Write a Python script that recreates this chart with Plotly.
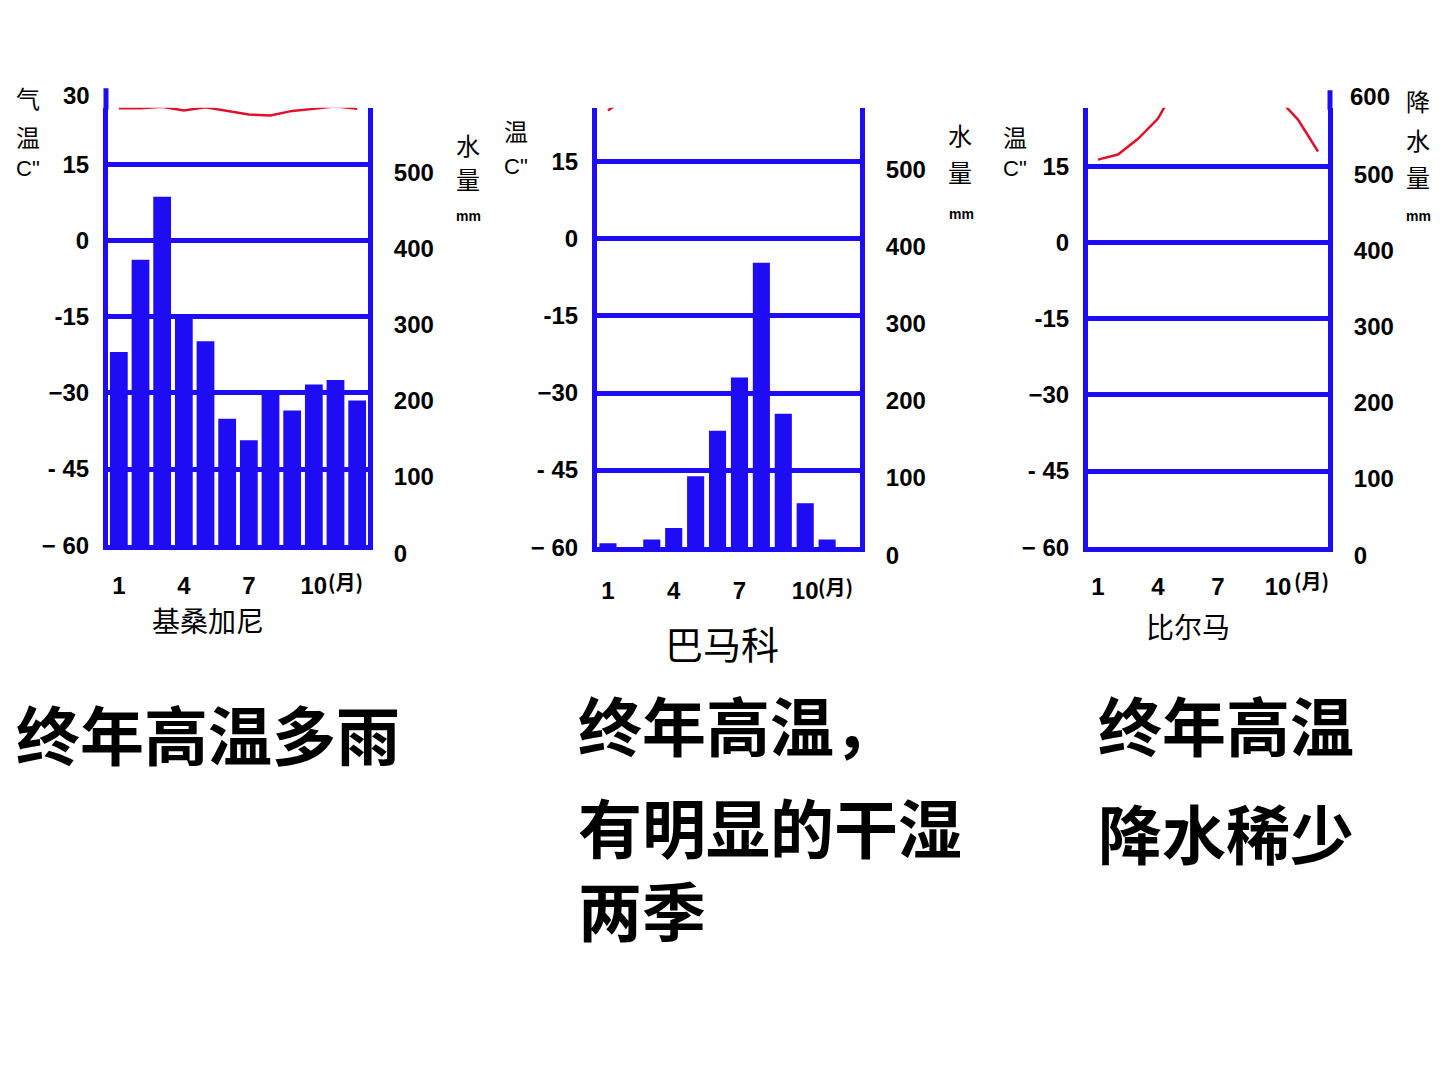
import plotly.graph_objects as go

# ---------------- data ----------------
months = [1, 2, 3, 4, 5, 6, 7, 8, 9, 10, 11, 12]
month_tick_vals = [1, 4, 7, 10]
month_tick_text = ["1", "4", "7", "10"]

temp_tick_vals = [-60, -45, -30, -15, 0, 15]
temp_tick_text = ["− 60", "- 45", "−30", "-15", "0", "15"]
precip_tick_vals = [0, 100, 200, 300, 400, 500]
precip_tick_text = ["0", "100", "200", "300", "400", "500"]

station_names = ["基桑加尼", "巴马科", "比尔马"]

kisangani_precip = [254, 375, 458, 298, 268, 166, 138, 200, 177, 211, 217, 190]
kisangani_temp = [26.1, 26.1, 26.4, 25.7, 26.3, 25.6, 24.9, 24.7, 25.6, 26.0, 26.5, 26.0]

bamako_precip = [5, 0, 10, 25, 92, 151, 220, 369, 173, 57, 10, 0]
bamako_temp = [25.0, 28.0, 31.0, 32.5, 31.5, 28.5, 26.5, 26.2, 26.8, 28.0, 27.5, 26.5]

bilma_precip = [0, 0, 0, 0, 0, 0, 0, 0, 0, 0, 0, 0]
bilma_temp = [16.4, 17.4, 20.5, 24.5, 31.5, 33.0, 33.0, 32.5, 31.0, 28.5, 24.3, 18.0]

summary_1 = ["终年高温多雨"]
summary_2 = ["终年高温，", "有明显的干湿", "两季"]
summary_3 = ["终年高温", "降水稀少"]

# ---------------- style / layout ----------------
W, H = 1440, 1080
BLUE = "#1e0cf5"
RED = "#e0102a"
NUM_FONT = dict(family="Liberation Sans", size=24, color="black", weight="bold")
CJK = "Noto Sans CJK SC"

def px(x):
    return x / W

def py(y):
    return 1 - y / H

charts = [
    dict(name=station_names[0], precip=kisangani_precip, temp=kisangani_temp,
         left=108, right=368, bottom=556, top=110, tmax=26.2, barw=0.82, tstand=15),
    dict(name=station_names[1], precip=bamako_precip, temp=bamako_temp,
         left=597, right=860, bottom=558, top=110, tmax=25.5, barw=0.78, tstand=18),
    dict(name=station_names[2], precip=bilma_precip, temp=bilma_temp,
         left=1088, right=1328, bottom=558, top=110, tmax=26.6, barw=0.78, tstand=14),
]

fig = go.Figure()
layout = {}

for i, c in enumerate(charts):
    xn = "x" if i == 0 else f"x{i+1}"
    yp = "y" if i == 0 else f"y{2*i+1}"
    yt = f"y{2*i+2}"
    xkey = "xaxis" if i == 0 else f"xaxis{i+1}"
    ypkey = "yaxis" if i == 0 else f"yaxis{2*i+1}"
    ytkey = f"yaxis{2*i+2}"

    fig.add_trace(go.Bar(x=months, y=c["precip"], xaxis=xn, yaxis=yp,
                         marker=dict(color=BLUE, line=dict(width=0)),
                         width=c["barw"], showlegend=False, hoverinfo="skip"))
    fig.add_trace(go.Scatter(x=months, y=c["temp"], xaxis=xn, yaxis=yt,
                             mode="lines", line=dict(color=RED, width=2.5),
                             showlegend=False, hoverinfo="skip"))

    ptop = (c["tmax"] + 60) * 500 / 75

    layout[xkey] = dict(
        domain=[px(c["left"]), px(c["right"])], anchor=yp,
        range=[0.5, 12.5], showgrid=False, zeroline=False,
        showline=True, linecolor=BLUE, linewidth=5,
        tickmode="array", tickvals=month_tick_vals, ticktext=month_tick_text,
        ticks="", ticklabelstandoff=c["tstand"], tickfont=NUM_FONT, fixedrange=True,
    )
    layout[ypkey] = dict(
        domain=[py(c["bottom"]), py(c["top"])], anchor=xn, side="right",
        range=[0, ptop], showgrid=True, gridcolor=BLUE, gridwidth=5,
        zeroline=False, showline=True, linecolor=BLUE, linewidth=5,
        tickmode="array", tickvals=precip_tick_vals, ticktext=precip_tick_text,
        ticks="", ticklabelstandoff=16, ticklabelshift=8, tickfont=NUM_FONT,
        fixedrange=True,
    )
    layout[ytkey] = dict(
        overlaying=yp, anchor=xn, side="left",
        range=[-60, c["tmax"]], showgrid=False, zeroline=False,
        showline=True, linecolor=BLUE, linewidth=5,
        tickmode="array", tickvals=temp_tick_vals, ticktext=temp_tick_text,
        ticks="", ticklabelstandoff=9, tickfont=NUM_FONT, fixedrange=True,
    )

annotations = []

def add_text(text, x, y, size, xanchor="center", family=CJK, weight="normal",
             yanchor="middle", align="center"):
    annotations.append(dict(
        text=text, x=px(x), y=py(y), xref="paper", yref="paper",
        xanchor=xanchor, yanchor=yanchor, showarrow=False, align=align,
        font=dict(family=family, size=size, color="black", weight=weight),
    ))

# chart 1 extras
add_text("30", 92, 97, 24, xanchor="right", family="Liberation Sans", weight="bold")
add_text("气", 28, 99, 24)
add_text("温", 28, 139, 24)
add_text('C"', 28, 172, 22, family="Liberation Sans")
add_text("水", 468, 147, 24)
add_text("量", 468, 182, 24)
add_text("mm", 468, 220, 14, family="Liberation Sans", weight="bold")
add_text("(月)", 326, 593, 20, xanchor="left", weight="bold")
add_text(station_names[0], 208, 632, 28)

# chart 2 extras
add_text("温", 516, 133, 24)
add_text('C"', 516, 170, 22, family="Liberation Sans")
add_text("水", 960, 137, 24)
add_text("量", 960, 175, 24)
add_text("mm", 962, 218, 14, family="Liberation Sans", weight="bold")
add_text("(月)", 816, 598, 20, xanchor="left", weight="bold")
add_text(station_names[1], 722, 655, 38)

# chart 3 extras
add_text("温", 1015, 139, 24)
add_text('C"', 1015, 172, 22, family="Liberation Sans")
add_text("600", 1348, 98, 24, xanchor="left", family="Liberation Sans", weight="bold")
add_text("降", 1418, 102, 24)
add_text("水", 1418, 142, 24)
add_text("量", 1418, 180, 24)
add_text("mm", 1418, 220, 14, family="Liberation Sans", weight="bold")
add_text("(月)", 1292, 592, 20, xanchor="left", weight="bold")
add_text(station_names[2], 1188, 638, 28)

# summaries
add_text(summary_1[0], 14, 747, 64, xanchor="left", weight="bold")
add_text(summary_2[0], 576, 737, 64, xanchor="left", weight="bold")
add_text("<br>".join(summary_2[1:]), 576, 884, 64, xanchor="left", weight="bold", align="left")
add_text(summary_3[0], 1096, 737, 64, xanchor="left", weight="bold")
add_text(summary_3[1], 1096, 847, 64, xanchor="left", weight="bold")

shapes = [
    dict(type="line", xref="paper", yref="paper", x0=px(106), x1=px(106),
         y0=py(112), y1=py(90), line=dict(color=BLUE, width=5)),
    dict(type="line", xref="paper", yref="paper", x0=px(1330), x1=px(1330),
         y0=py(112), y1=py(92), line=dict(color=BLUE, width=5)),
]

fig.update_layout(
    width=W, height=H, margin=dict(l=0, r=0, t=0, b=0),
    paper_bgcolor="white", plot_bgcolor="white",
    showlegend=False, bargap=0.2,
    annotations=annotations, shapes=shapes,
    **layout,
)

fig.write_html(
    "out.html",
    config={"displayModeBar": False, "staticPlot": True},
    post_script="document.body.style.margin='0px';document.body.style.overflow='hidden';",
)
